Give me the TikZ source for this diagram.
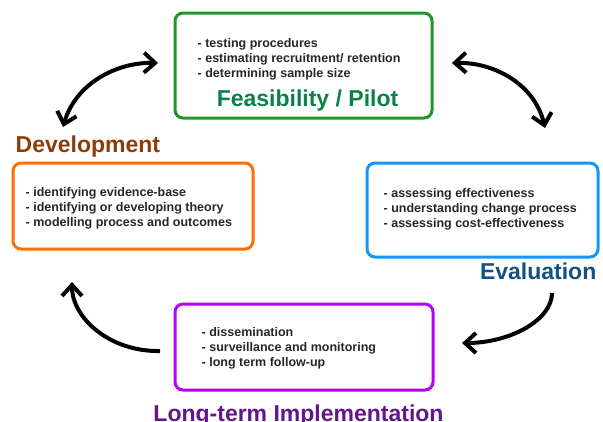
\documentclass[tikz,border=0pt]{standalone}
\usepackage{fontspec}
\setmainfont{Liberation Sans}
\usetikzlibrary{arrows.meta,positioning}

\definecolor{feasgreen}{RGB}{30,150,40}
\definecolor{feastitle}{RGB}{10,130,70}
\definecolor{devorange}{RGB}{255,110,0}
\definecolor{devtitle}{RGB}{140,60,10}
\definecolor{evalblue}{RGB}{20,150,255}
\definecolor{evaltitle}{RGB}{20,80,130}
\definecolor{implpurple}{RGB}{180,0,255}
\definecolor{impltitle}{RGB}{100,20,140}

\begin{document}
\begin{tikzpicture}[
    x=1pt, y=-1pt,
    stage/.style={rectangle, draw=#1, line width=3pt, rounded corners=8pt, inner sep=0pt},
    list/.style={align=left, font=\bfseries\fontsize{12.5}{15}\selectfont, text=black!85, inner sep=0pt, anchor=west},
    title/.style={font=\bfseries\fontsize{23}{26}\selectfont, text=#1, inner sep=0pt},
    oneway/.style={line width=4pt, -{Straight Barb[length=11pt,width=20pt]}},
    twoway/.style={line width=4pt, {Straight Barb[length=11pt,width=20pt]}-{Straight Barb[length=11pt,width=20pt]}}
]
\useasboundingbox (0,0) rectangle (603,421);

% Stage boxes
\node[stage=feasgreen, minimum width=257pt, minimum height=105pt] (feas) at (303.5,65.5) {};
\node[stage=devorange, minimum width=240pt, minimum height=86pt] (dev) at (133,206) {};
\node[stage=evalblue, minimum width=231pt, minimum height=94pt] (eval) at (482.5,210) {};
\node[stage=implpurple, minimum width=258pt, minimum height=86pt] (impl) at (304,347) {};

% Lists inside the boxes
\node[list] (feaslist) at ([xshift=24pt, yshift=6.5pt]feas.west) {- testing procedures\\- estimating recruitment/ retention\\- determining sample size};
\node[list] (devlist) at ([xshift=14pt, yshift=-2.5pt]dev.west) {- identifying evidence-base\\- identifying or developing theory\\- modelling process and outcomes};
\node[list] (evallist) at ([xshift=18pt, yshift=1pt]eval.west) {- assessing effectiveness\\- understanding change process\\- assessing cost-effectiveness};
\node[list] (impllist) at ([xshift=28pt, yshift=-1pt]impl.west) {- dissemination\\- surveillance and monitoring\\- long term follow-up};

% Stage titles
\node[title=feastitle, anchor=south] (feastxt) at ([xshift=4pt, yshift=8pt]feas.south) {Feasibility / Pilot};
\node[title=devtitle, anchor=south west] (devtxt) at ([xshift=4pt, yshift=4pt]dev.north west) {Development};
\node[title=evaltitle, anchor=north east] (evaltxt) at ([xshift=-3pt, yshift=-4pt]eval.south east) {Evaluation};
\node[title=impltitle, anchor=north] (impltxt) at ([xshift=-5.5pt, yshift=-13pt]impl.south) {Long-term Implementation};

% Arrow ends
\coordinate (devup) at (63,127);
\coordinate (feasin) at (158,63);
\coordinate (feasout) at (452,63);
\coordinate (evaldown) at (545,128);
\coordinate (evalout) at (552,293);
\coordinate (implin) at (462,343);
\coordinate (implout) at (160,351);
\coordinate (devin) at (72,282);

\draw[twoway] (devup) .. controls (75,85) and (115,62) .. (feasin);
\draw[twoway] (feasout) .. controls (495,62) and (535,85) .. (evaldown);
\draw[oneway] (evalout) .. controls (552,320) and (510,343) .. (implin);
\draw[oneway] (implout) .. controls (110,352) and (72,318) .. (devin);

\end{tikzpicture}
\end{document}
